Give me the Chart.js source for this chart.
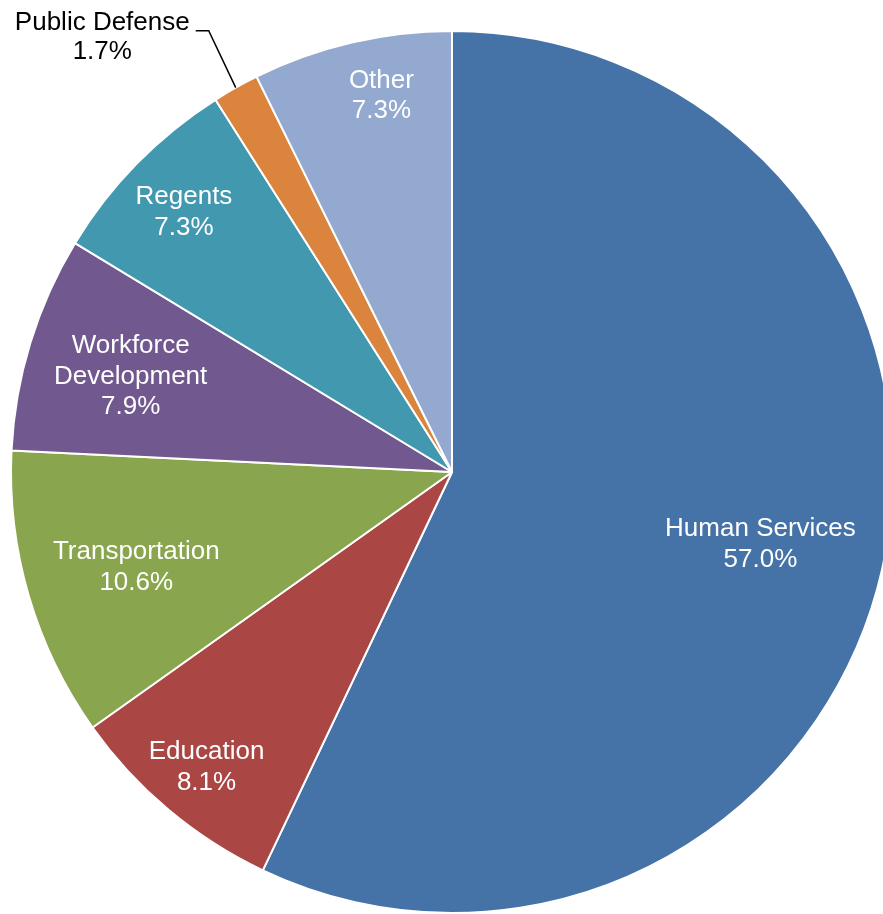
<!DOCTYPE html>
<html lang="en">
<head>
  <meta charset="UTF-8">
  <title>Spending by Area</title>
  <style>
    html, body {
      margin: 0;
      padding: 0;
      background: #ffffff;
      overflow: hidden;
      width: 883px;
      height: 914px;
    }
    canvas {
      display: block;
    }
  </style>
</head>
<body>
  <canvas id="myChart" width="904" height="914"></canvas>

  <script src="https://cdn.jsdelivr.net/npm/chart.js@4.4.2/dist/chart.umd.min.js"></script>
  <script>
    // Chart data (percent of total)
    const categories = ['Human Services', 'Education', 'Transportation', 'Workforce Development', 'Regents', 'Public Defense', 'Other'];
    const shares = [57.0, 8.1, 10.6, 7.9, 7.3, 1.7, 7.3];
    const labelLines = [['Human Services'], ['Education'], ['Transportation'], ['Workforce', 'Development'], ['Regents'], ['Public Defense'], ['Other']];

    // Styling
    const sliceColors = ['#4572A7', '#AA4643', '#89A54E', '#71588F', '#4198AF', '#DB843D', '#93A9CF'];
    const labelRadius = [0.717, 0.866, 0.746, 0.762, 0.851, null, 0.883]; // fraction of outer radius
    const labelNudgeX = [0, 0, 0, 0, 0, 0, 18];

    // Draws the data labels, with a leader line for the small slice
    const sliceLabels = {
      id: 'sliceLabels',
      afterDatasetsDraw(chart) {
        const ctx = chart.ctx;
        const meta = chart.getDatasetMeta(0);
        const lineH = 30.5;
        ctx.save();
        ctx.font = '26px "Liberation Sans", Arial, sans-serif';
        ctx.textBaseline = 'middle';
        meta.data.forEach((arc, i) => {
          const lines = labelLines[i].concat([shares[i].toFixed(1) + '%']);
          const mid = (arc.startAngle + arc.endAngle) / 2;
          if (labelRadius[i] === null) {
            // outside label with leader line
            const sx = arc.x + Math.cos(mid) * arc.outerRadius;
            const sy = arc.y + Math.sin(mid) * arc.outerRadius;
            const ex = sx - 27, ey = sy - 57;
            const hx = ex - 13;
            ctx.strokeStyle = '#000000';
            ctx.lineWidth = 1.5;
            ctx.beginPath();
            ctx.moveTo(sx, sy);
            ctx.lineTo(ex, ey);
            ctx.lineTo(hx, ey);
            ctx.stroke();
            ctx.fillStyle = '#000000';
            const w = ctx.measureText(lines[0]).width;
            const cx = hx - 6 - w / 2;
            ctx.textAlign = 'center';
            lines.forEach((t, k) => ctx.fillText(t, cx, ey - 8 + k * 29));
            return;
          }
          const r = arc.outerRadius * labelRadius[i];
          const cx = arc.x + Math.cos(mid) * r + labelNudgeX[i];
          const cy = arc.y + Math.sin(mid) * r + 3;
          ctx.fillStyle = '#ffffff';
          ctx.textAlign = 'center';
          const top = cy - (lines.length - 1) * lineH / 2;
          lines.forEach((t, k) => ctx.fillText(t, cx, top + k * lineH));
        });
        ctx.restore();
      }
    };

    const ctx = document.getElementById('myChart').getContext('2d');
    const chart = new Chart(ctx, {
      type: 'pie',
      data: {
        labels: categories,
        datasets: [{
          data: shares,
          backgroundColor: sliceColors,
          borderColor: '#ffffff',
          borderWidth: 2
        }]
      },
      options: {
        responsive: false,
        devicePixelRatio: 1,
        animation: false,
        layout: {
          padding: { top: 30, bottom: 0, left: 0, right: 0 }
        },
        plugins: {
          legend: { display: false },
          tooltip: { enabled: false }
        }
      },
      plugins: [sliceLabels]
    });
  </script>
</body>
</html>
